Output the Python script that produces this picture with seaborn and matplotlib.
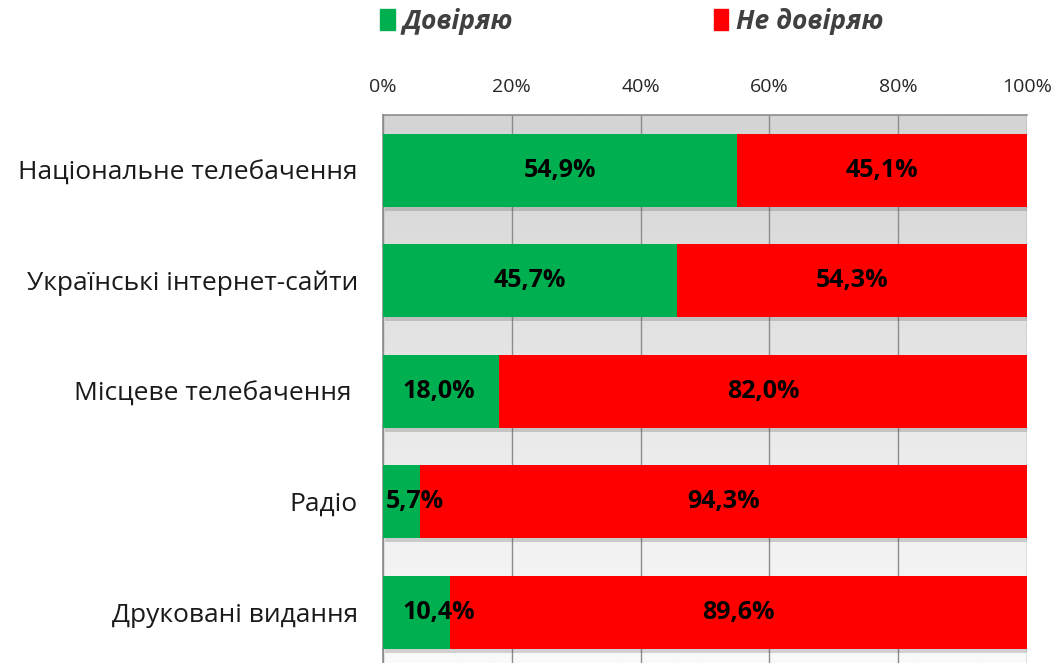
import matplotlib
matplotlib.use("Agg")
import matplotlib.pyplot as plt
import numpy as np
import pandas as pd
import seaborn as sns
from matplotlib.patches import Patch
from matplotlib import patheffects as pe

categories = ["Національне телебачення", "Українські інтернет-сайти",
              "Місцеве телебачення ", "Радіо", "Друковані видання"]
trust = [54.9, 45.7, 18.0, 5.7, 10.4]
distrust = [45.1, 54.3, 82.0, 94.3, 89.6]
series_names = ["Довіряю", "Не довіряю"]
ticks = [0, 20, 40, 60, 80, 100]

GREEN = "#00B050"
RED = "#FF0000"

sns.set_theme(style="white")
plt.rcParams["font.family"] = ["Open Sans", "DejaVu Sans"]

df = pd.DataFrame({"cat": categories, "trust": trust, "distrust": distrust})
df["total"] = df["trust"] + df["distrust"]

fig = plt.figure(figsize=(10.55, 6.63), dpi=100)
ax = fig.add_axes([383 / 1055, 0, (1027 - 383) / 1055, 1 - 115 / 663])

# gray gradient background of the plot area
grad = np.linspace(0, 1, 256).reshape(-1, 1)
ax.imshow(grad, extent=(0, 100, 4.46, -0.5), aspect="auto",
          cmap=matplotlib.colors.LinearSegmentedColormap.from_list("bg", ["#d4d4d4", "#fafafa"]),
          zorder=0)

shadow = [pe.SimplePatchShadow(offset=(1.5, -3), alpha=0.22, shadow_rgbFace="#444444"), pe.Normal()]

sns.barplot(data=df, x="total", y="cat", orient="h", color=RED, width=0.66,
            saturation=1, ax=ax, zorder=3)
sns.barplot(data=df, x="trust", y="cat", orient="h", color=GREEN, width=0.66,
            saturation=1, ax=ax, zorder=4)
for i, p in enumerate(ax.patches):
    p.set_path_effects(shadow if i < len(categories) else [pe.Normal()])
    p.set_linewidth(0)

ax.set_xlim(0, 100)
ax.set_ylim(4.46, -0.5)
ax.set_xticks(ticks)
ax.set_xticklabels([f"{t}%" for t in ticks])
ax.xaxis.tick_top()
ax.tick_params(axis="x", length=0, pad=14, labelsize=14, colors="#262626")
ax.tick_params(axis="y", length=0, pad=18, labelsize=19, colors="#1a1a1a")
ax.set_xlabel("")
ax.set_ylabel("")
for t in ticks:
    ax.axvline(t, color="#8c8c8c", lw=1, zorder=1)
for s in ["right", "bottom"]:
    ax.spines[s].set_visible(False)
for s in ["left", "top"]:
    ax.spines[s].set_color("#8c8c8c")
    ax.spines[s].set_linewidth(1.2)

lbl = dict(fontsize=18, fontweight="bold", color="black", va="center", zorder=6)
for i, (g, r) in enumerate(zip(trust, distrust)):
    gs = f"{g:.1f}%".replace(".", ",")
    rs = f"{r:.1f}%".replace(".", ",")
    if g >= 30:
        ax.text(g / 2, i, gs, ha="center", **lbl)
    else:
        ax.text(3 if g >= 10 else 0.5, i, gs, ha="left", **lbl)
    ax.text(g + r / 2, i, rs, ha="center", **lbl)

handles = [Patch(color=GREEN), Patch(color=RED)]
leg = fig.legend(handles, series_names, loc="center left", bbox_to_anchor=(367 / 1055, 0.968),
                 ncol=2, frameon=False, handlelength=0.55, handleheight=0.85,
                 handletextpad=0.3, columnspacing=7.6, borderpad=0,
                 prop={"size": 19, "weight": "bold", "style": "italic"})
for t in leg.get_texts():
    t.set_color("#404040")

fig.savefig("out.png", dpi=100)
